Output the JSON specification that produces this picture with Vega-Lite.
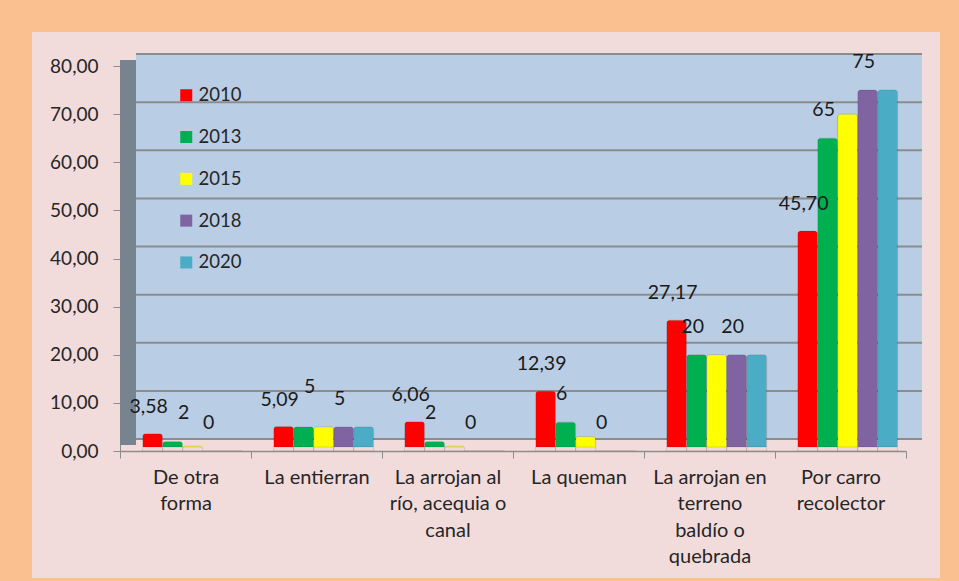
{
  "$schema": "https://vega.github.io/schema/vega-lite/v6.json",
  "width": 908,
  "height": 546,
  "autosize": {"type": "none"},
  "padding": {"left": 32, "top": 32, "right": 19, "bottom": 3},
  "background": "#FAC090",
  "config": {
    "font": "Lato",
    "view": {"fill": "#F2DCDB", "stroke": null},
    "locale": {"number": {"decimal": ",", "thousands": ".", "grouping": [3], "currency": ["", ""]}}
  },
  "datasets": {
    "main": [
      {"cat": "De otra forma", "year": "2010", "v": 3.58},
      {"cat": "De otra forma", "year": "2013", "v": 2},
      {"cat": "De otra forma", "year": "2015", "v": 1},
      {"cat": "De otra forma", "year": "2018", "v": 0},
      {"cat": "De otra forma", "year": "2020", "v": 0},
      {"cat": "La entierran", "year": "2010", "v": 5.09},
      {"cat": "La entierran", "year": "2013", "v": 5},
      {"cat": "La entierran", "year": "2015", "v": 5},
      {"cat": "La entierran", "year": "2018", "v": 5},
      {"cat": "La entierran", "year": "2020", "v": 5},
      {"cat": "La arrojan al río, acequia o canal", "year": "2010", "v": 6.06},
      {"cat": "La arrojan al río, acequia o canal", "year": "2013", "v": 2},
      {"cat": "La arrojan al río, acequia o canal", "year": "2015", "v": 1},
      {"cat": "La arrojan al río, acequia o canal", "year": "2018", "v": 0},
      {"cat": "La arrojan al río, acequia o canal", "year": "2020", "v": 0},
      {"cat": "La queman", "year": "2010", "v": 12.39},
      {"cat": "La queman", "year": "2013", "v": 6},
      {"cat": "La queman", "year": "2015", "v": 3},
      {"cat": "La queman", "year": "2018", "v": 0},
      {"cat": "La queman", "year": "2020", "v": 0},
      {"cat": "La arrojan en terreno baldío o quebrada", "year": "2010", "v": 27.17},
      {"cat": "La arrojan en terreno baldío o quebrada", "year": "2013", "v": 20},
      {"cat": "La arrojan en terreno baldío o quebrada", "year": "2015", "v": 20},
      {"cat": "La arrojan en terreno baldío o quebrada", "year": "2018", "v": 20},
      {"cat": "La arrojan en terreno baldío o quebrada", "year": "2020", "v": 20},
      {"cat": "Por carro recolector", "year": "2010", "v": 45.70},
      {"cat": "Por carro recolector", "year": "2013", "v": 65},
      {"cat": "Por carro recolector", "year": "2015", "v": 70},
      {"cat": "Por carro recolector", "year": "2018", "v": 75},
      {"cat": "Por carro recolector", "year": "2020", "v": 75}
    ],
    "grid": [{"g": 0}, {"g": 10}, {"g": 20}, {"g": 30}, {"g": 40}, {"g": 50}, {"g": 60}, {"g": 70}, {"g": 80}]
  },
  "data": {"name": "main"},
  "layer": [
    {
      "data": {"values": [{}]},
      "mark": {"type": "rect", "fill": "#B9CDE5", "xOffset": 16, "x2Offset": 16, "yOffset": -12, "y2Offset": -12},
      "encoding": {
        "x": {"datum": "De otra forma", "type": "nominal", "bandPosition": 0, "title": null,
              "scale": {"domain": ["De otra forma", "La entierran", "La arrojan al río, acequia o canal", "La queman", "La arrojan en terreno baldío o quebrada", "Por carro recolector"], "range": [88, 874], "paddingInner": 0, "paddingOuter": 0}},
        "x2": {"datum": "Por carro recolector", "bandPosition": 1},
        "y": {"datum": 0, "type": "quantitative", "title": null, "scale": {"domain": [0, 80], "range": [419, 34], "nice": false}},
        "y2": {"datum": 80}
      }
    },
    {
      "data": {"values": [{}]},
      "mark": {"type": "rule", "stroke": "#77838F", "strokeWidth": 16, "xOffset": 8, "x2Offset": 8, "yOffset": -6, "y2Offset": -6},
      "encoding": {
        "x": {"datum": "De otra forma", "type": "nominal", "bandPosition": 0, "title": null},
        "y": {"datum": 0, "type": "quantitative", "title": null},
        "y2": {"datum": 80}
      }
    },
    {
      "data": {"name": "grid"},
      "mark": {"type": "rule", "stroke": "#8C8C8C", "strokeWidth": 2, "xOffset": 16, "x2Offset": 16, "yOffset": -12},
      "encoding": {
        "x": {"datum": "De otra forma", "type": "nominal", "bandPosition": 0, "title": null},
        "x2": {"datum": "Por carro recolector", "bandPosition": 1},
        "y": {"field": "g", "type": "quantitative", "title": null}
      }
    },
    {
      "mark": {"type": "bar", "yOffset": -4, "y2Offset": -4, "cornerRadiusTopLeft": 3, "cornerRadiusTopRight": 3, "stroke": "#000000", "strokeOpacity": 0.12, "strokeWidth": 1},
      "encoding": {
        "x": {"field": "cat", "type": "nominal", "title": null,
              "scale": {"domain": ["De otra forma", "La entierran", "La arrojan al río, acequia o canal", "La queman", "La arrojan en terreno baldío o quebrada", "Por carro recolector"], "range": [88, 874], "paddingInner": 0, "paddingOuter": 0},
              "axis": {"title": null, "orient": "bottom", "offset": -127, "tickBand": "extent", "tickSize": 7, "tickColor": "#8C8C8C", "domainColor": "#8C8C8C", "domainWidth": 1.5, "grid": false, "labelAngle": 0, "labelAlign": "center", "labelFontSize": 20, "labelColor": "#262626", "labelLineHeight": 26.5, "labelPadding": 9, "labelBaseline": "top",
                       "labelExpr": "datum.value == 'De otra forma' ? ['De otra', 'forma'] : datum.value == 'La arrojan al río, acequia o canal' ? ['La arrojan al', 'río, acequia o', 'canal'] : datum.value == 'La arrojan en terreno baldío o quebrada' ? ['La arrojan en', 'terreno', 'baldío o', 'quebrada'] : datum.value == 'Por carro recolector' ? ['Por carro', 'recolector'] : datum.label"}},
        "xOffset": {"field": "year", "type": "nominal", "scale": {"domain": ["2010", "2013", "2015", "2018", "2020"], "paddingInner": 0, "paddingOuter": 0.775, "align": 0.73}},
        "y": {"field": "v", "type": "quantitative", "title": null,
              "scale": {"domain": [0, 80], "range": [419, 34], "nice": false},
              "axis": {"title": null, "values": [0, 10, 20, 30, 40, 50, 60, 70, 80], "format": ".2f", "offset": -88, "grid": false, "tickSize": 7, "tickColor": "#8C8C8C", "domainColor": "#8C8C8C", "labelFontSize": 19, "labelColor": "#262626", "labelPadding": 15}},
        "color": {"field": "year", "type": "nominal",
                  "scale": {"domain": ["2010", "2013", "2015", "2018", "2020"], "range": ["#FF0000", "#00B050", "#FFFF00", "#8064A2", "#4BACC6"]},
                  "legend": {"title": null, "orient": "none", "legendX": 145, "legendY": 54, "symbolType": "square", "symbolSize": 144, "symbolStrokeWidth": 0, "labelFontSize": 18.5, "labelColor": "#262626", "rowPadding": 22.8, "labelOffset": 3, "padding": 0}}
      }
    },
    {
      "transform": [{"filter": "datum.year == '2010'"}],
      "mark": {"type": "text", "dy": -27, "dx": -4, "fontSize": 19.5, "color": "#1A1A1A"},
      "encoding": {
        "x": {"field": "cat", "type": "nominal", "title": null},
        "xOffset": {"field": "year", "type": "nominal"},
        "y": {"field": "v", "type": "quantitative", "title": null},
        "text": {"field": "v", "type": "quantitative", "format": ".2f"}
      }
    },
    {
      "transform": [{"filter": "datum.year == '2013' || datum.year == '2018'"}],
      "mark": {"type": "text", "fontSize": 19.5, "color": "#1A1A1A",
               "dy": {"expr": "datum.cat == 'La entierran' && datum.year == '2013' ? -40 : -28"},
               "dx": {"expr": "datum.year == '2013' && datum.cat == 'De otra forma' ? 11 : datum.year == '2013' && datum.cat == 'La entierran' ? 6 : -4"}},
      "encoding": {
        "x": {"field": "cat", "type": "nominal", "title": null},
        "xOffset": {"field": "year", "type": "nominal"},
        "y": {"field": "v", "type": "quantitative", "title": null},
        "text": {"field": "v", "type": "quantitative", "format": "d"}
      }
    }
  ]
}
